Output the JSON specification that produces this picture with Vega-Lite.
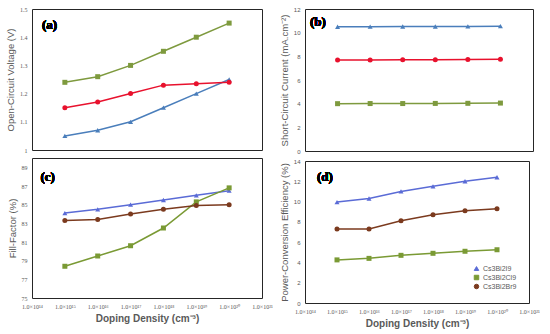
{
  "$schema": "https://vega.github.io/schema/vega-lite/v6.json",
  "padding": {"left": 5, "top": 5, "right": 5, "bottom": 3},
  "background": "white",
  "datasets": {
    "pv": [
      {"d": 1e15, "m": "Cs3Bi2I9", "voc": 1.05, "jsc": 10.50, "ff": 84.1, "pce": 9.95},
      {"d": 1e16, "m": "Cs3Bi2I9", "voc": 1.07, "jsc": 10.51, "ff": 84.5, "pce": 10.3},
      {"d": 1e17, "m": "Cs3Bi2I9", "voc": 1.10, "jsc": 10.52, "ff": 85.0, "pce": 11.0},
      {"d": 1e18, "m": "Cs3Bi2I9", "voc": 1.15, "jsc": 10.52, "ff": 85.5, "pce": 11.5},
      {"d": 1e19, "m": "Cs3Bi2I9", "voc": 1.20, "jsc": 10.53, "ff": 86.0, "pce": 12.0},
      {"d": 1e20, "m": "Cs3Bi2I9", "voc": 1.25, "jsc": 10.55, "ff": 86.5, "pce": 12.4},
      {"d": 1e15, "m": "Cs3Bi2Cl9", "voc": 1.24, "jsc": 4.00, "ff": 78.4, "pce": 4.25},
      {"d": 1e16, "m": "Cs3Bi2Cl9", "voc": 1.26, "jsc": 4.01, "ff": 79.5, "pce": 4.4},
      {"d": 1e17, "m": "Cs3Bi2Cl9", "voc": 1.30, "jsc": 4.01, "ff": 80.6, "pce": 4.7},
      {"d": 1e18, "m": "Cs3Bi2Cl9", "voc": 1.35, "jsc": 4.02, "ff": 82.5, "pce": 4.9},
      {"d": 1e19, "m": "Cs3Bi2Cl9", "voc": 1.40, "jsc": 4.03, "ff": 85.3, "pce": 5.1},
      {"d": 1e20, "m": "Cs3Bi2Cl9", "voc": 1.45, "jsc": 4.05, "ff": 86.8, "pce": 5.25},
      {"d": 1e15, "m": "Cs3Bi2Br9", "voc": 1.15, "jsc": 7.70, "ff": 83.3, "pce": 7.3},
      {"d": 1e16, "m": "Cs3Bi2Br9", "voc": 1.17, "jsc": 7.70, "ff": 83.4, "pce": 7.3},
      {"d": 1e17, "m": "Cs3Bi2Br9", "voc": 1.20, "jsc": 7.71, "ff": 84.0, "pce": 8.1},
      {"d": 1e18, "m": "Cs3Bi2Br9", "voc": 1.23, "jsc": 7.72, "ff": 84.5, "pce": 8.7},
      {"d": 1e19, "m": "Cs3Bi2Br9", "voc": 1.235, "jsc": 7.73, "ff": 84.9, "pce": 9.1},
      {"d": 1e20, "m": "Cs3Bi2Br9", "voc": 1.24, "jsc": 7.75, "ff": 85.0, "pce": 9.3}
    ]
  },
  "config": {
    "view": {"stroke": "#262626", "strokeWidth": 1},
    "axis": {
      "domain": false, "ticks": false, "grid": false,
      "labelFontSize": 6, "labelColor": "#595959", "labelFont": "Liberation Serif",
      "labelPadding": 5, "labelOverlap": false, "labelFlush": false,
      "titleColor": "#595959", "titleFont": "Liberation Sans", "titleFontSize": 9.5,
      "titleFontWeight": "normal", "titlePadding": 4
    },
    "legend": {
      "orient": "bottom-right", "offset": 12, "labelFontSize": 7, "labelColor": "#595959",
      "labelFont": "Liberation Sans", "symbolSize": 20, "rowPadding": 0, "padding": 0, "labelOffset": 3, "symbolStrokeWidth": 1
    },
    "text": {"font": "Liberation Serif", "fontWeight": "bold", "fontSize": 13, "color": "#000"}
  },
  "resolve": {"scale": {"color": "independent", "shape": "independent"}, "legend": {"color": "independent", "shape": "independent"}},
  "spacing": 5,
  "hconcat": [
    {
      "spacing": 3,
      "resolve": {"scale": {"color": "independent", "shape": "independent"}, "legend": {"color": "independent", "shape": "independent"}},
      "vconcat": [
        {
          "width": 230, "height": 141,
          "data": {"name": "pv"},
          "encoding": {
            "x": {"field": "d", "type": "quantitative", "scale": {"type": "log", "domain": [1e14, 1e21]}, "axis": null},
            "y": {"field": "voc", "type": "quantitative", "scale": {"domain": [1, 1.5]}, "axis": {"title": "Open-Circuit Voltage (V)", "values": [1, 1.1, 1.2, 1.3, 1.4, 1.5], "format": "~g"}},
            "color": {"field": "m", "type": "nominal", "scale": {"domain": ["Cs3Bi2I9", "Cs3Bi2Cl9", "Cs3Bi2Br9"], "range": ["#4A7EBB", "#7E9A3E", "#E8112D"]}, "legend": null}
          },
          "layer": [
            {"mark": {"type": "line", "strokeWidth": 1.5}},
            {"mark": {"type": "point", "filled": true, "opacity": 1, "size": 25},
             "encoding": {"shape": {"field": "m", "type": "nominal", "scale": {"domain": ["Cs3Bi2I9", "Cs3Bi2Cl9", "Cs3Bi2Br9"], "range": ["triangle-up", "square", "circle"]}, "legend": null}}},
            {"mark": {"type": "text", "text": "(a)"}, "encoding": {"x": {"datum": 3.4e14}, "y": {"datum": 1.443}, "color": {"value": "#000"}}}
          ]
        },
        {
          "width": 230, "height": 140,
          "data": {"name": "pv"},
          "encoding": {
            "x": {"field": "d", "type": "quantitative", "scale": {"type": "log", "domain": [1e14, 1e21]},
                  "axis": {"title": "Doping Density (cm⁻³)", "titleFontWeight": 600, "titleFontSize": 10, "values": [1e14, 1e15, 1e16, 1e17, 1e18, 1e19, 1e20, 1e21],
                           "labelExpr": "'1.0×10' + (datum.value < 3e14 ? '¹⁴' : datum.value < 3e15 ? '¹⁵' : datum.value < 3e16 ? '¹⁶' : datum.value < 3e17 ? '¹⁷' : datum.value < 3e18 ? '¹⁸' : datum.value < 3e19 ? '¹⁹' : datum.value < 3e20 ? '²⁰' : '²¹')"}},
            "y": {"field": "ff", "type": "quantitative", "scale": {"domain": [75, 90]}, "axis": {"title": "Fill-Factor (%)", "values": [75, 77, 79, 81, 83, 85, 87, 89]}},
            "color": {"field": "m", "type": "nominal", "scale": {"domain": ["Cs3Bi2I9", "Cs3Bi2Cl9", "Cs3Bi2Br9"], "range": ["#5A6BD6", "#7A9A34", "#7B3A1E"]}, "legend": null}
          },
          "layer": [
            {"mark": {"type": "line", "strokeWidth": 1.5}},
            {"mark": {"type": "point", "filled": true, "opacity": 1, "size": 25},
             "encoding": {"shape": {"field": "m", "type": "nominal", "scale": {"domain": ["Cs3Bi2I9", "Cs3Bi2Cl9", "Cs3Bi2Br9"], "range": ["triangle-up", "square", "circle"]}, "legend": null}}},
            {"mark": {"type": "text", "text": "(c)"}, "encoding": {"x": {"datum": 3.0e14}, "y": {"datum": 87.96}, "color": {"value": "#000"}}}
          ]
        }
      ]
    },
    {
      "spacing": 2,
      "resolve": {"scale": {"color": "independent", "shape": "independent"}, "legend": {"color": "independent", "shape": "independent"}},
      "vconcat": [
        {
          "width": 228, "height": 142,
          "data": {"name": "pv"},
          "encoding": {
            "x": {"field": "d", "type": "quantitative", "scale": {"type": "log", "domain": [1e14, 1e21]}, "axis": null},
            "y": {"field": "jsc", "type": "quantitative", "scale": {"domain": [0, 12]}, "axis": {"title": "Short-Circuit Current (mA.cm⁻²)", "values": [0, 2, 4, 6, 8, 10, 12], "labelFont": "Liberation Sans"}},
            "color": {"field": "m", "type": "nominal", "scale": {"domain": ["Cs3Bi2I9", "Cs3Bi2Cl9", "Cs3Bi2Br9"], "range": ["#4A7EBB", "#7E9A3E", "#E8112D"]}, "legend": null}
          },
          "layer": [
            {"mark": {"type": "line", "strokeWidth": 1.5}},
            {"mark": {"type": "point", "filled": true, "opacity": 1, "size": 25},
             "encoding": {"shape": {"field": "m", "type": "nominal", "scale": {"domain": ["Cs3Bi2I9", "Cs3Bi2Cl9", "Cs3Bi2Br9"], "range": ["triangle-up", "square", "circle"]}, "legend": null}}},
            {"mark": {"type": "text", "text": "(b)"}, "encoding": {"x": {"datum": 2.5e14}, "y": {"datum": 10.9}, "color": {"value": "#000"}}}
          ]
        },
        {
          "width": 224, "height": 142,
          "data": {"name": "pv"},
          "encoding": {
            "x": {"field": "d", "type": "quantitative", "scale": {"type": "log", "domain": [1e14, 1e21]},
                  "axis": {"title": "Doping Density (cm⁻³)", "titleFontWeight": 600, "titleFontSize": 10, "values": [1e14, 1e15, 1e16, 1e17, 1e18, 1e19, 1e20, 1e21],
                           "labelExpr": "'1.0×10' + (datum.value < 3e14 ? '¹⁴' : datum.value < 3e15 ? '¹⁵' : datum.value < 3e16 ? '¹⁶' : datum.value < 3e17 ? '¹⁷' : datum.value < 3e18 ? '¹⁸' : datum.value < 3e19 ? '¹⁹' : datum.value < 3e20 ? '²⁰' : '²¹')"}},
            "y": {"field": "pce", "type": "quantitative", "scale": {"domain": [0, 14]}, "axis": {"title": "Power-Conversion Efficiency (%)", "values": [0, 2, 4, 6, 8, 10, 12, 14], "labelFont": "Liberation Sans"}},
            "color": {"field": "m", "type": "nominal", "scale": {"domain": ["Cs3Bi2I9", "Cs3Bi2Cl9", "Cs3Bi2Br9"], "range": ["#5A6BD6", "#7A9A34", "#7B3A1E"]}, "legend": {"title": null}}
          },
          "layer": [
            {"mark": {"type": "line", "strokeWidth": 1.5}},
            {"mark": {"type": "point", "filled": true, "opacity": 1, "size": 25},
             "encoding": {"shape": {"field": "m", "type": "nominal", "scale": {"domain": ["Cs3Bi2I9", "Cs3Bi2Cl9", "Cs3Bi2Br9"], "range": ["triangle-up", "square", "circle"]}, "legend": {"title": null}}}},
            {"mark": {"type": "text", "text": "(d)"}, "encoding": {"x": {"datum": 4.2e14}, "y": {"datum": 12.4}, "color": {"value": "#000"}}}
          ]
        }
      ]
    }
  ]
}
